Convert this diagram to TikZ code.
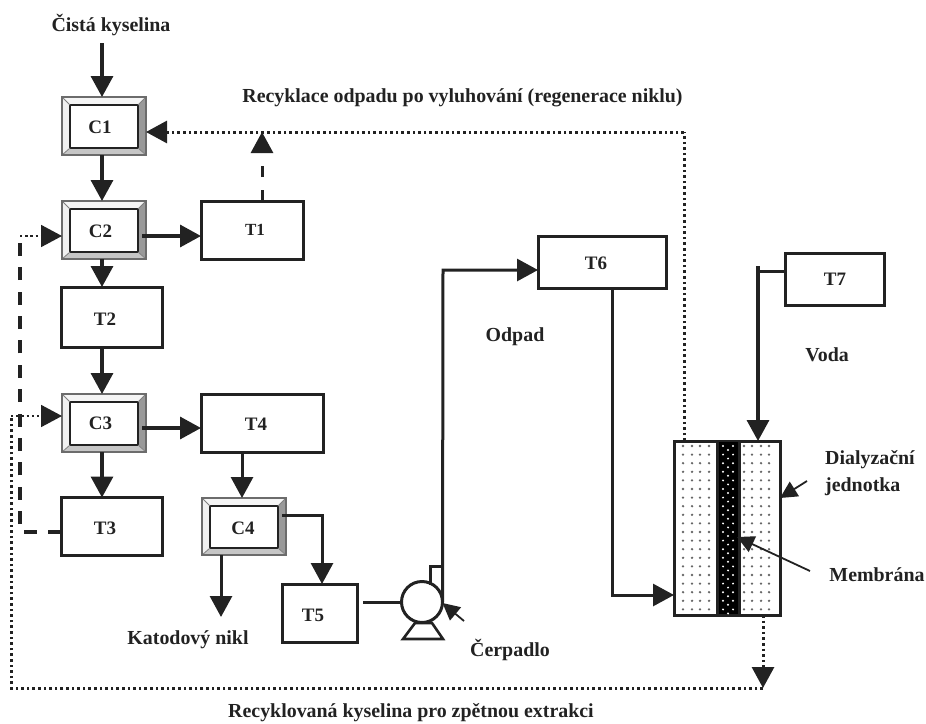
\documentclass[tikz,border=0pt]{standalone}
\usepackage{fontspec}
\setmainfont{Liberation Serif}
\usetikzlibrary{arrows,arrows.meta}
\usetikzlibrary{calc}
\definecolor{linka}{RGB}{34,34,34}

\tikzset{
    tip/.style={-{Triangle[length=21pt,width=22pt]}},
    smalltip/.style={-{Triangle[length=17pt,width=17pt]}},
    pipe/.style={draw=linka,line width=3.4pt},
    thinpipe/.style={draw=linka,line width=3pt},
    dashpipe/.style={pipe,dash pattern=on 13pt off 11.4pt},
    dotpipe/.style={draw=linka,line width=3pt,dash pattern=on 2.6pt off 3pt},
    finedots/.style={draw=linka,line width=1.8pt,dash pattern=on 2.4pt off 2.8pt},
    pointer/.style={draw=linka,line width=1.8pt},
    txt/.style={text=linka,font=\fontsize{19.9}{27}\selectfont\bfseries,align=center,inner sep=0pt},
    boxtxt/.style={text=linka,font=\fontsize{19}{22}\selectfont\bfseries,inner sep=0pt},
    tank/.style={draw=linka,line width=3pt,inner sep=0pt,outer sep=0pt,minimum height=58pt},
    cell/.style={draw=gray!85!black,line width=1.6pt,inner sep=0pt,outer sep=0pt,
        minimum width=84pt,minimum height=58pt,
        path picture={
            \coordinate (nw) at (path picture bounding box.north west);
            \coordinate (ne) at (path picture bounding box.north east);
            \coordinate (sw) at (path picture bounding box.south west);
            \coordinate (se) at (path picture bounding box.south east);
            \fill[gray!8] (nw) -- (ne) -- ($(ne)+(-8,8)$) -- ($(nw)+(8,8)$) -- cycle;
            \fill[gray!12] (nw) -- (sw) -- ($(sw)+(8,-7)$) -- ($(nw)+(8,8)$) -- cycle;
            \fill[gray!80] (ne) -- (se) -- ($(se)+(-8,-7)$) -- ($(ne)+(-8,8)$) -- cycle;
            \fill[gray!45] (sw) -- (se) -- ($(se)+(-8,-7)$) -- ($(sw)+(8,-7)$) -- cycle;
            \draw[linka,line width=1.8pt] ($(nw)+(8,8)$) rectangle ($(se)+(-8,-7)$);
            \draw[gray,line width=.8pt] (nw) -- ($(nw)+(8,8)$) (ne) -- ($(ne)+(-8,8)$)
                (sw) -- ($(sw)+(8,-7)$) (se) -- ($(se)+(-8,-7)$);
        }},
}

\begin{document}
\begin{tikzpicture}[x=1pt,y=-1pt]
    \useasboundingbox (0,0) rectangle (926,723);

    \node [cell] (C1) at (104,126) {};
    \node [cell] (C2) at (104,230) {};
    \node [cell] (C3) at (104,423) {};
    \node [cell,minimum height=57pt] (C4) at (244,526.5) {};
    \node [boxtxt] (lC1) at (100,127) {C1};
    \node [boxtxt] (lC2) at (100.5,231) {C2};
    \node [boxtxt] (lC3) at (100.5,423) {C3};
    \node [boxtxt] (lC4) at (243,528) {C4};

    \node [tank,minimum width=102pt] (T1) at (252,230) {};
    \node [tank,minimum width=101pt,minimum height=60pt] (T2) at (111.5,317) {};
    \node [tank,minimum width=101pt] (T3) at (111.5,526.5) {};
    \node [tank,minimum width=122pt] (T4) at (262,423) {};
    \node [tank,minimum width=75pt] (T5) at (319.5,613) {};
    \node [tank,minimum width=128pt,minimum height=52pt] (T6) at (602,262) {};
    \node [tank,minimum width=99pt,minimum height=52pt] (T7) at (834.5,279) {};
    \node [boxtxt,font=\fontsize{17}{20}\selectfont\bfseries] (lT1) at (255,230) {T1};
    \node [boxtxt] (lT2) at (105,319) {T2};
    \node [boxtxt] (lT3) at (105,528) {T3};
    \node [boxtxt] (lT4) at (256,424) {T4};
    \node [boxtxt] (lT5) at (313,615) {T5};
    \node [boxtxt] (lT6) at (596,263) {T6};
    \node [boxtxt] (lT7) at (835,279) {T7};

    \node [draw=linka,line width=3pt,inner sep=0pt,outer sep=0pt,minimum width=106pt,minimum height=174pt] (dial) at (727,528) {};
    \node [fill=black,inner sep=0pt,minimum width=22pt,minimum height=172pt] (mem) at (728,528) {};
    \foreach \x in {683,692,700,709,744,752,761,769} {
        \foreach \i in {0,...,19} {
            \fill[gray!80!black] (\x,446+8.6*\i) circle (1.3pt);
        }
    }
    \foreach \i in {0,...,19} {
        \fill[white] (723,446+8.6*\i) circle (1.1pt);
        \fill[white] (733,446+8.6*\i) circle (1.1pt);
        \fill[white] (728,450+8.6*\i) circle (1.1pt);
    }
    \draw [thinpipe] (717,441) -- (717,615) (739,441) -- (739,615);

    \node [draw=linka,line width=3pt,circle,inner sep=0pt,outer sep=0pt,minimum size=41pt] (pump) at (422,602) {};
    \draw [draw=linka,line width=2.6pt] ($(pump)+(-19,37)$) -- ($(pump)+(21,37)$) -- ($(pump)+(10,21)$) -- ($(pump)+(-7,21)$) -- cycle;

    \coordinate (start) at (102,43);
    \coordinate (bendC2) at (20,236);
    \coordinate (bendT3) at (20,532);
    \coordinate (bendC3) at (11,416);
    \coordinate (bendBottom) at (11,688);
    \coordinate (endBottom) at (763,688);
    \coordinate (topT1) at (262,132);
    \coordinate (endNikl) at (221,617);
    \coordinate (cornerT) at (684,132);
    \coordinate (stub) at (430,566);
    \coordinate (outStub) at (443,566);
    \coordinate (bendT7) at (758,271);
    \coordinate (topT7) at (758,266);
    \coordinate (bendT6) at (443,270);

    \draw [pipe,tip] (start) -- ([xshift=-2pt]C1.north);
    \draw [pipe,tip] ([xshift=-2pt]C1.south) -- ([xshift=-2pt]C2.north);
    \draw [pipe,tip] ([xshift=-2pt]C2.south) -- ([xshift=-9.5pt]T2.north);
    \draw [pipe,tip] ([xshift=-9.5pt]T2.south) -- ([xshift=-2pt]C3.north);
    \draw [pipe,tip] ([xshift=-2pt]C3.south) -- ([xshift=-9.5pt]T3.north);
    \draw [pipe,tip] ($(C2.east)+(-4,6)$) -- ($(T1.west)+(0,6)$);
    \draw [pipe,tip] ($(C3.east)+(-4,5)$) -- ($(T4.west)+(0,5)$);
    \draw [thinpipe,tip] ([xshift=-20pt]T4.south) -- ([xshift=-2pt]C4.north);
    \draw [thinpipe,tip] ($(C4.east)+(-4,-11.5)$) -| ([xshift=2.5pt]T5.north);
    \draw [thinpipe,tip] ([xshift=-23pt]C4.south) -- (endNikl);

    \draw [thinpipe,dash pattern=on 11pt off 13pt,tip] ([xshift=10pt]T1.north) -- (topT1);
    \draw [dotpipe] ($(dial.north)+(-43,0)$) -- (cornerT);
    \draw [dotpipe,tip] (cornerT) -- (C1.east |- cornerT);
    \draw [dashpipe] ($(T3.west)+(0,5.5)$) -- (bendT3) -- (bendC2);
    \draw [finedots,tip] (bendC2) -- (C2.west |- bendC2);
    \draw [dotpipe] (endBottom) -- (bendBottom) -- (bendC3);
    \draw [finedots,tip] (bendC3) -- (C3.west |- bendC3);
    \draw [dotpipe,tip] ($(dial.south)+(36,0)$) -- (endBottom);

    \draw [thinpipe] ([xshift=6pt]T5.east |- pump.west) -- (pump.west);
    \draw [thinpipe,tip] (pump.east) -- (bendT6) -- (T6.west |- bendT6);
    \draw [thinpipe] (430,585) -- (stub) -- (outStub);
    \draw [pointer,smalltip] (464,621) -- (pump.east |- 0,603);

    \draw [thinpipe,tip] ([xshift=10pt]T6.south) |- ($(dial.west)+(0,67)$);
    \draw [thinpipe] (T7.west |- bendT7) -- (bendT7);
    \draw [pipe,tip] (topT7) -- (topT7 |- dial.north);

    \draw [pointer,smalltip] (807,481) -- (780,498);
    \draw [pointer,smalltip] (810,571) -- (737,537);

    \node [txt] (kyselina) at (111,25) {Čistá kyselina};
    \node [txt] (recyklace) at (462.5,98) {Recyklace odpadu po vyluhování (regenerace niklu)};
    \node [txt] (odpad) at (515,337) {Odpad};
    \node [txt] (voda) at (827,355) {Voda};
    \node [txt,anchor=west,align=left] (jednotka) at (825,473) {Dialyzační\\jednotka};
    \node [txt] (membrana) at (877,575) {Membrána};
    \node [txt] (nikl) at (188,640) {Katodový nikl};
    \node [txt] (cerpadlo) at (510,650) {Čerpadlo};
    \node [txt] (zpetna) at (411,713) {Recyklovaná kyselina pro zpětnou extrakci};
\end{tikzpicture}
\end{document}
